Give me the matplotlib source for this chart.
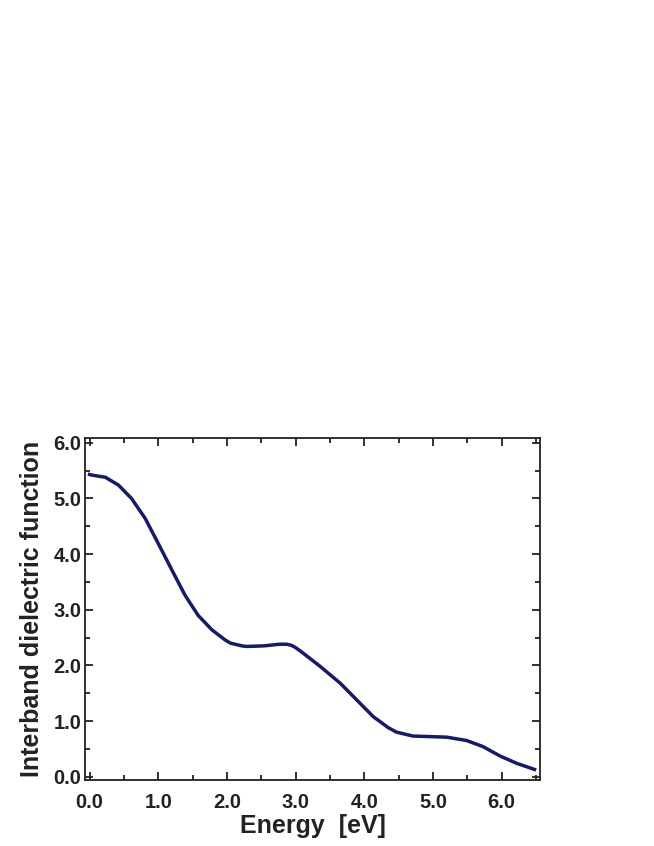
import numpy as np
import matplotlib
matplotlib.use('Agg')
import matplotlib.pyplot as plt
from matplotlib.ticker import MultipleLocator

# values
energy = [0.0, 0.03, 0.23, 0.42, 0.61, 0.81, 1.00, 1.20, 1.39, 1.58, 1.78, 1.97,
          2.05, 2.22, 2.29, 2.53, 2.77, 2.87, 2.94, 3.0, 3.11, 3.36, 3.65, 3.89,
          4.13, 4.23, 4.35, 4.47, 4.71, 4.96, 5.20, 5.49, 5.73, 5.98, 6.22, 6.48]
eps_inter = [5.43, 5.42, 5.38, 5.24, 5.00, 4.64, 4.19, 3.71, 3.26, 2.90, 2.64, 2.46,
             2.40, 2.35, 2.34, 2.35, 2.38, 2.38, 2.36, 2.32, 2.22, 1.98, 1.68, 1.38,
             1.08, 0.99, 0.88, 0.80, 0.73, 0.72, 0.71, 0.65, 0.54, 0.37, 0.24, 0.13]

x_ticks = [0.0, 1.0, 2.0, 3.0, 4.0, 5.0, 6.0]
y_ticks = [0.0, 1.0, 2.0, 3.0, 4.0, 5.0, 6.0]

plt.rcParams['font.family'] = ['Liberation Sans', 'DejaVu Sans']
plt.rcParams['font.weight'] = 'bold'

fig = plt.figure(figsize=(6.54, 8.46), dpi=100)
ax = fig.add_axes([0.1307, 0.078, 0.695, 0.4039])

ax.plot(energy, eps_inter, color='#161a6a', lw=2.5, solid_joinstyle='round')

ax.set_xlim(-0.06, 6.56)
ax.set_ylim(-0.06, 6.08)
ax.set_xticks(x_ticks)
ax.set_yticks(y_ticks)
ax.set_xticklabels([f'{v:.1f}' for v in x_ticks])
ax.set_yticklabels([f'{v:.1f}' for v in y_ticks])
ax.xaxis.set_minor_locator(MultipleLocator(0.5))
ax.yaxis.set_minor_locator(MultipleLocator(0.5))
ax.tick_params(which='both', direction='in', top=True, right=True, width=1.3,
               labelsize=14.5, colors='#222222')
ax.tick_params(which='major', length=6)
ax.tick_params(which='minor', length=3.5)
ax.tick_params(axis='x', pad=9)
ax.tick_params(axis='y', pad=3)
for s in ax.spines.values():
    s.set_linewidth(1.3)
    s.set_color('#222222')

ax.set_xlabel('Energy  [eV]', fontsize=18, fontweight='bold', color='#222222', labelpad=2)
ax.set_ylabel('Interband dielectric function', fontsize=18, fontweight='bold',
              color='#222222', labelpad=7)

fig.savefig('out.png', dpi=100)
